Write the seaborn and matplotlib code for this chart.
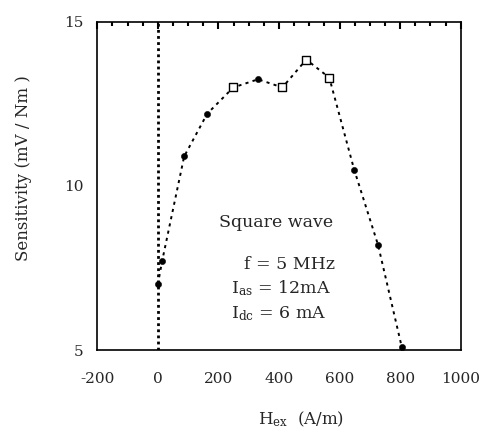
import matplotlib
matplotlib.use("Agg")
import matplotlib.pyplot as plt
import seaborn as sns
import pandas as pd
from matplotlib.ticker import MultipleLocator

# data
h_ex = [0, 14, 87, 163, 249, 331, 411, 490, 566, 648, 727, 805]
sensitivity = [7.0, 7.7, 10.9, 12.2, 13.0, 13.25, 13.0, 13.85, 13.3, 10.5, 8.2, 5.1]
marker_kind = ["dot", "dot", "dot", "dot", "square", "dot", "square", "square", "square", "dot", "dot", "dot"]

x_ticks = [-200, 0, 200, 400, 600, 800, 1000]
y_ticks = [5, 10, 15]

df = pd.DataFrame({"H": h_ex, "S": sensitivity, "kind": marker_kind})

sns.set_style("white")
plt.rcParams["font.family"] = ["DejaVu Serif"]
plt.rcParams["axes.unicode_minus"] = False
plt.rcParams["mathtext.fontset"] = "dejavuserif"

fig = plt.figure(figsize=(4.96, 4.37), dpi=100)
ax = fig.add_axes([0.196, 0.199, 0.733, 0.751])

ax.axvline(0, color="black", linestyle=(0, (1, 1.2)), linewidth=2.0, zorder=1)

sns.lineplot(data=df, x="H", y="S", ax=ax, color="black", linestyle=(0, (1.6, 2.2)),
             linewidth=1.4, sort=True, estimator=None)
sns.scatterplot(data=df[df.kind == "square"], x="H", y="S", ax=ax, marker="s",
                s=28, facecolor="white", edgecolor="black", linewidth=1.0, zorder=3)
sns.scatterplot(data=df[df.kind == "dot"], x="H", y="S", ax=ax, marker="o",
                s=20, color="black", edgecolor="black", zorder=3)

ax.set_xlim(-200, 1000)
ax.set_ylim(5, 15)
ax.set_xticks(x_ticks)
ax.set_yticks(y_ticks)
ax.xaxis.set_minor_locator(MultipleLocator(50))
ax.yaxis.set_minor_locator(MultipleLocator(1))
ax.tick_params(axis="both", which="major", direction="in", length=5, width=1.5,
               top=True, right=False, labelsize=11, color="black")
ax.tick_params(axis="x", which="major", pad=16)
ax.tick_params(axis="y", which="major", pad=10)
ax.tick_params(axis="both", which="minor", direction="in", length=3, width=1.5,
               top=True, right=False, color="black")
for s in ax.spines.values():
    s.set_color("black")
    s.set_linewidth(1.2)

ax.set_xlabel(r"H$_{\mathregular{ex}}$  (A/m)", fontsize=12)
ax.xaxis.set_label_coords(0.56, -0.18)
ax.set_ylabel("Sensitivity (mV / Nm )", fontsize=12)
ax.yaxis.set_label_coords(-0.18, 0.555)

ax.text(390, 8.9, "Square wave", fontsize=12.5, ha="center", va="center")
ax.text(586, 7.6, "f = 5 MHz", fontsize=12.5, ha="right", va="center")
ax.text(243, 6.9, r"I$_{\mathregular{as}}$ = 12mA", fontsize=12.5, ha="left", va="center")
ax.text(243, 6.1, r"I$_{\mathregular{dc}}$ = 6 mA", fontsize=12.5, ha="left", va="center")

fig.savefig("out.png", dpi=100)
